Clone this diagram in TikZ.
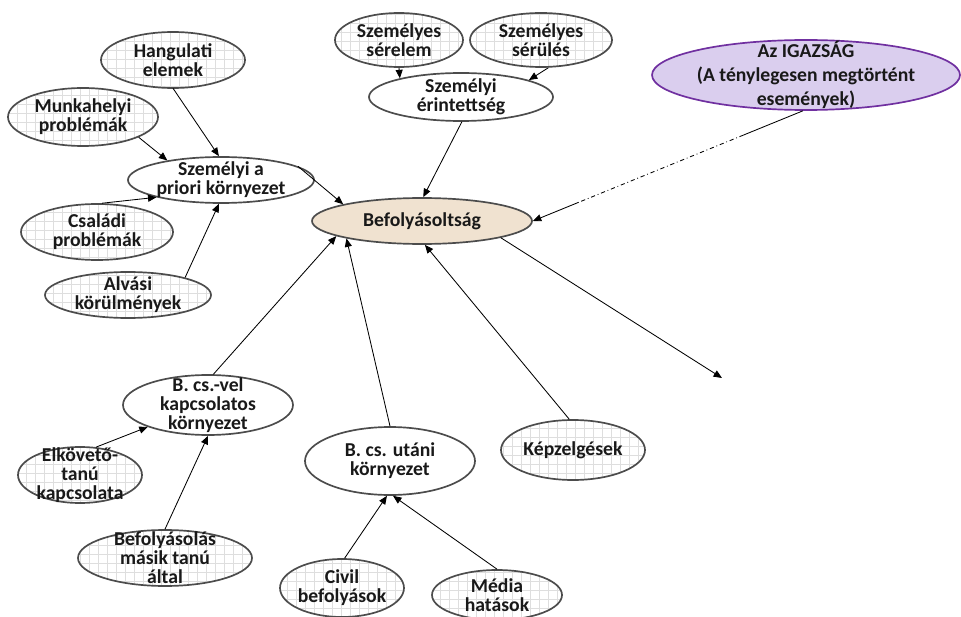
\documentclass[tikz,border=0pt]{standalone}
\usepackage{fontspec}
\setmainfont{Carlito}
\usepackage{tikz}
\usetikzlibrary{arrows.meta, calc, shapes.geometric, patterns.meta}
\definecolor{colTruth}{RGB}{218,206,238}
\definecolor{colTruthLine}{RGB}{112,48,160}
\definecolor{colInfl}{RGB}{240,226,208}
\colorlet{colEdge}{black!70}
\tikzset{
  factor/.style n args={2}{ellipse, draw=colEdge, line width=1.2pt, align=center,
    inner sep=-10pt, text=black!90, font=\fontsize{14}{13.5}\selectfont\bfseries,
    minimum width=#1*0.025cm, minimum height=#2*0.025cm},
  plain/.style={fill=white},
  gridfill/.style={preaction={fill=white}, pattern={Hatch[distance=6.4pt, line width=0.4pt]}, pattern color=black!13},
  arr/.style={-{Triangle[length=6pt,width=5pt]}, line width=0.6pt},
}

\begin{document}
\begin{tikzpicture}[x=0.025cm, y=-0.025cm]
  \useasboundingbox (0,0) rectangle (961,617);

  % left group
  \node[factor={144}{56}, gridfill] (hang) at (173,60) {Hangulati\\elemek};
  \node[factor={150}{58}, gridfill] (munka) at (83,117) {Munkahelyi\\problémák};
  \node[factor={186}{46}, plain] (apri) at (221,180) {Személyi a\\priori környezet};
  \node[factor={152}{56}, gridfill] (csal) at (97,232) {Családi\\problémák};
  \node[factor={166}{46}, gridfill] (alv) at (128,295) {Alvási\\körülmények};

  % top group
  \node[factor={128}{54}, gridfill] (serelem) at (399,40) {Személyes\\sérelem};
  \node[factor={142}{54}, gridfill] (serules) at (541,40) {Személyes\\sérülés};
  \node[factor={184}{48}, plain] (erint) at (461,97) {Személyi\\érintettség};

  % centre and truth
  \node[factor={220}{46}, fill=colInfl] (befo) at (422,221) {Befolyásoltság};
  \node[factor={308}{70}, fill=colTruth, draw=colTruthLine,
        font=\fontsize{14}{17}\selectfont\bfseries] (igaz) at (806,75)
        {Az IGAZSÁG\\(A ténylegesen megtörtént\\események)};
  \coordinate (outend) at (722,378);

  % lower group
  \node[factor={170}{60}, plain] (bvel) at (208,405) {B. cs.-vel\\kapcsolatos\\környezet};
  \node[factor={124}{56}, gridfill] (elk) at (80,475) {Elkövető-\\tanú\\kapcsolata};
  \node[factor={174}{56}, gridfill] (befm) at (165,558) {Befolyásolás\\másik tanú\\által};
  \node[factor={170}{68}, plain] (butan) at (390,461) {B. cs. utáni\\környezet};
  \node[factor={144}{60}, gridfill] (kepz) at (573,450) {Képzelgések};
  \node[factor={124}{58}, gridfill] (civil) at (342,588) {Civil\\befolyások};
  \node[factor={130}{50}, gridfill] (media) at (497,595) {Média\\hatások};

  % connectors
  \draw[arr] (hang.south) -- (apri.95);
  \draw[arr] (munka.-20) -- (apri.160);
  \draw[arr] (csal.80) -- (apri.195);
  \draw[arr] (alv.17) -- (apri.265);
  \draw[arr] (apri.10) -- (befo.168);
  \draw[arr] (serelem.south) -- (erint.163);
  \draw[arr] (serules.-75) -- (erint.14);
  \draw[arr] (erint.-88) -- (befo.87);
  \draw[line width=0.6pt] (igaz.265) -- ($(igaz.265)!0.22!(befo.east)$) coordinate (dd1);
  \draw[line width=0.6pt, dash dot] (dd1) -- ($(igaz.265)!0.83!(befo.east)$) coordinate (dd2);
  \draw[arr] (dd2) -- (befo.east);
  \draw[arr] (befo.-12) -- (outend);
  \draw[arr] (kepz.97) -- (befo.-83);
  \draw[arr] (butan.north) -- (befo.193);
  \draw[arr] (bvel.80) -- (befo.190);
  \draw[arr] (elk.60) -- (bvel.200);
  \draw[arr] (befm.north) -- (bvel.-90);
  \draw[arr] (civil.85) -- (butan.-95);
  \draw[arr] (media.north) -- (butan.-85);
\end{tikzpicture}
\end{document}
